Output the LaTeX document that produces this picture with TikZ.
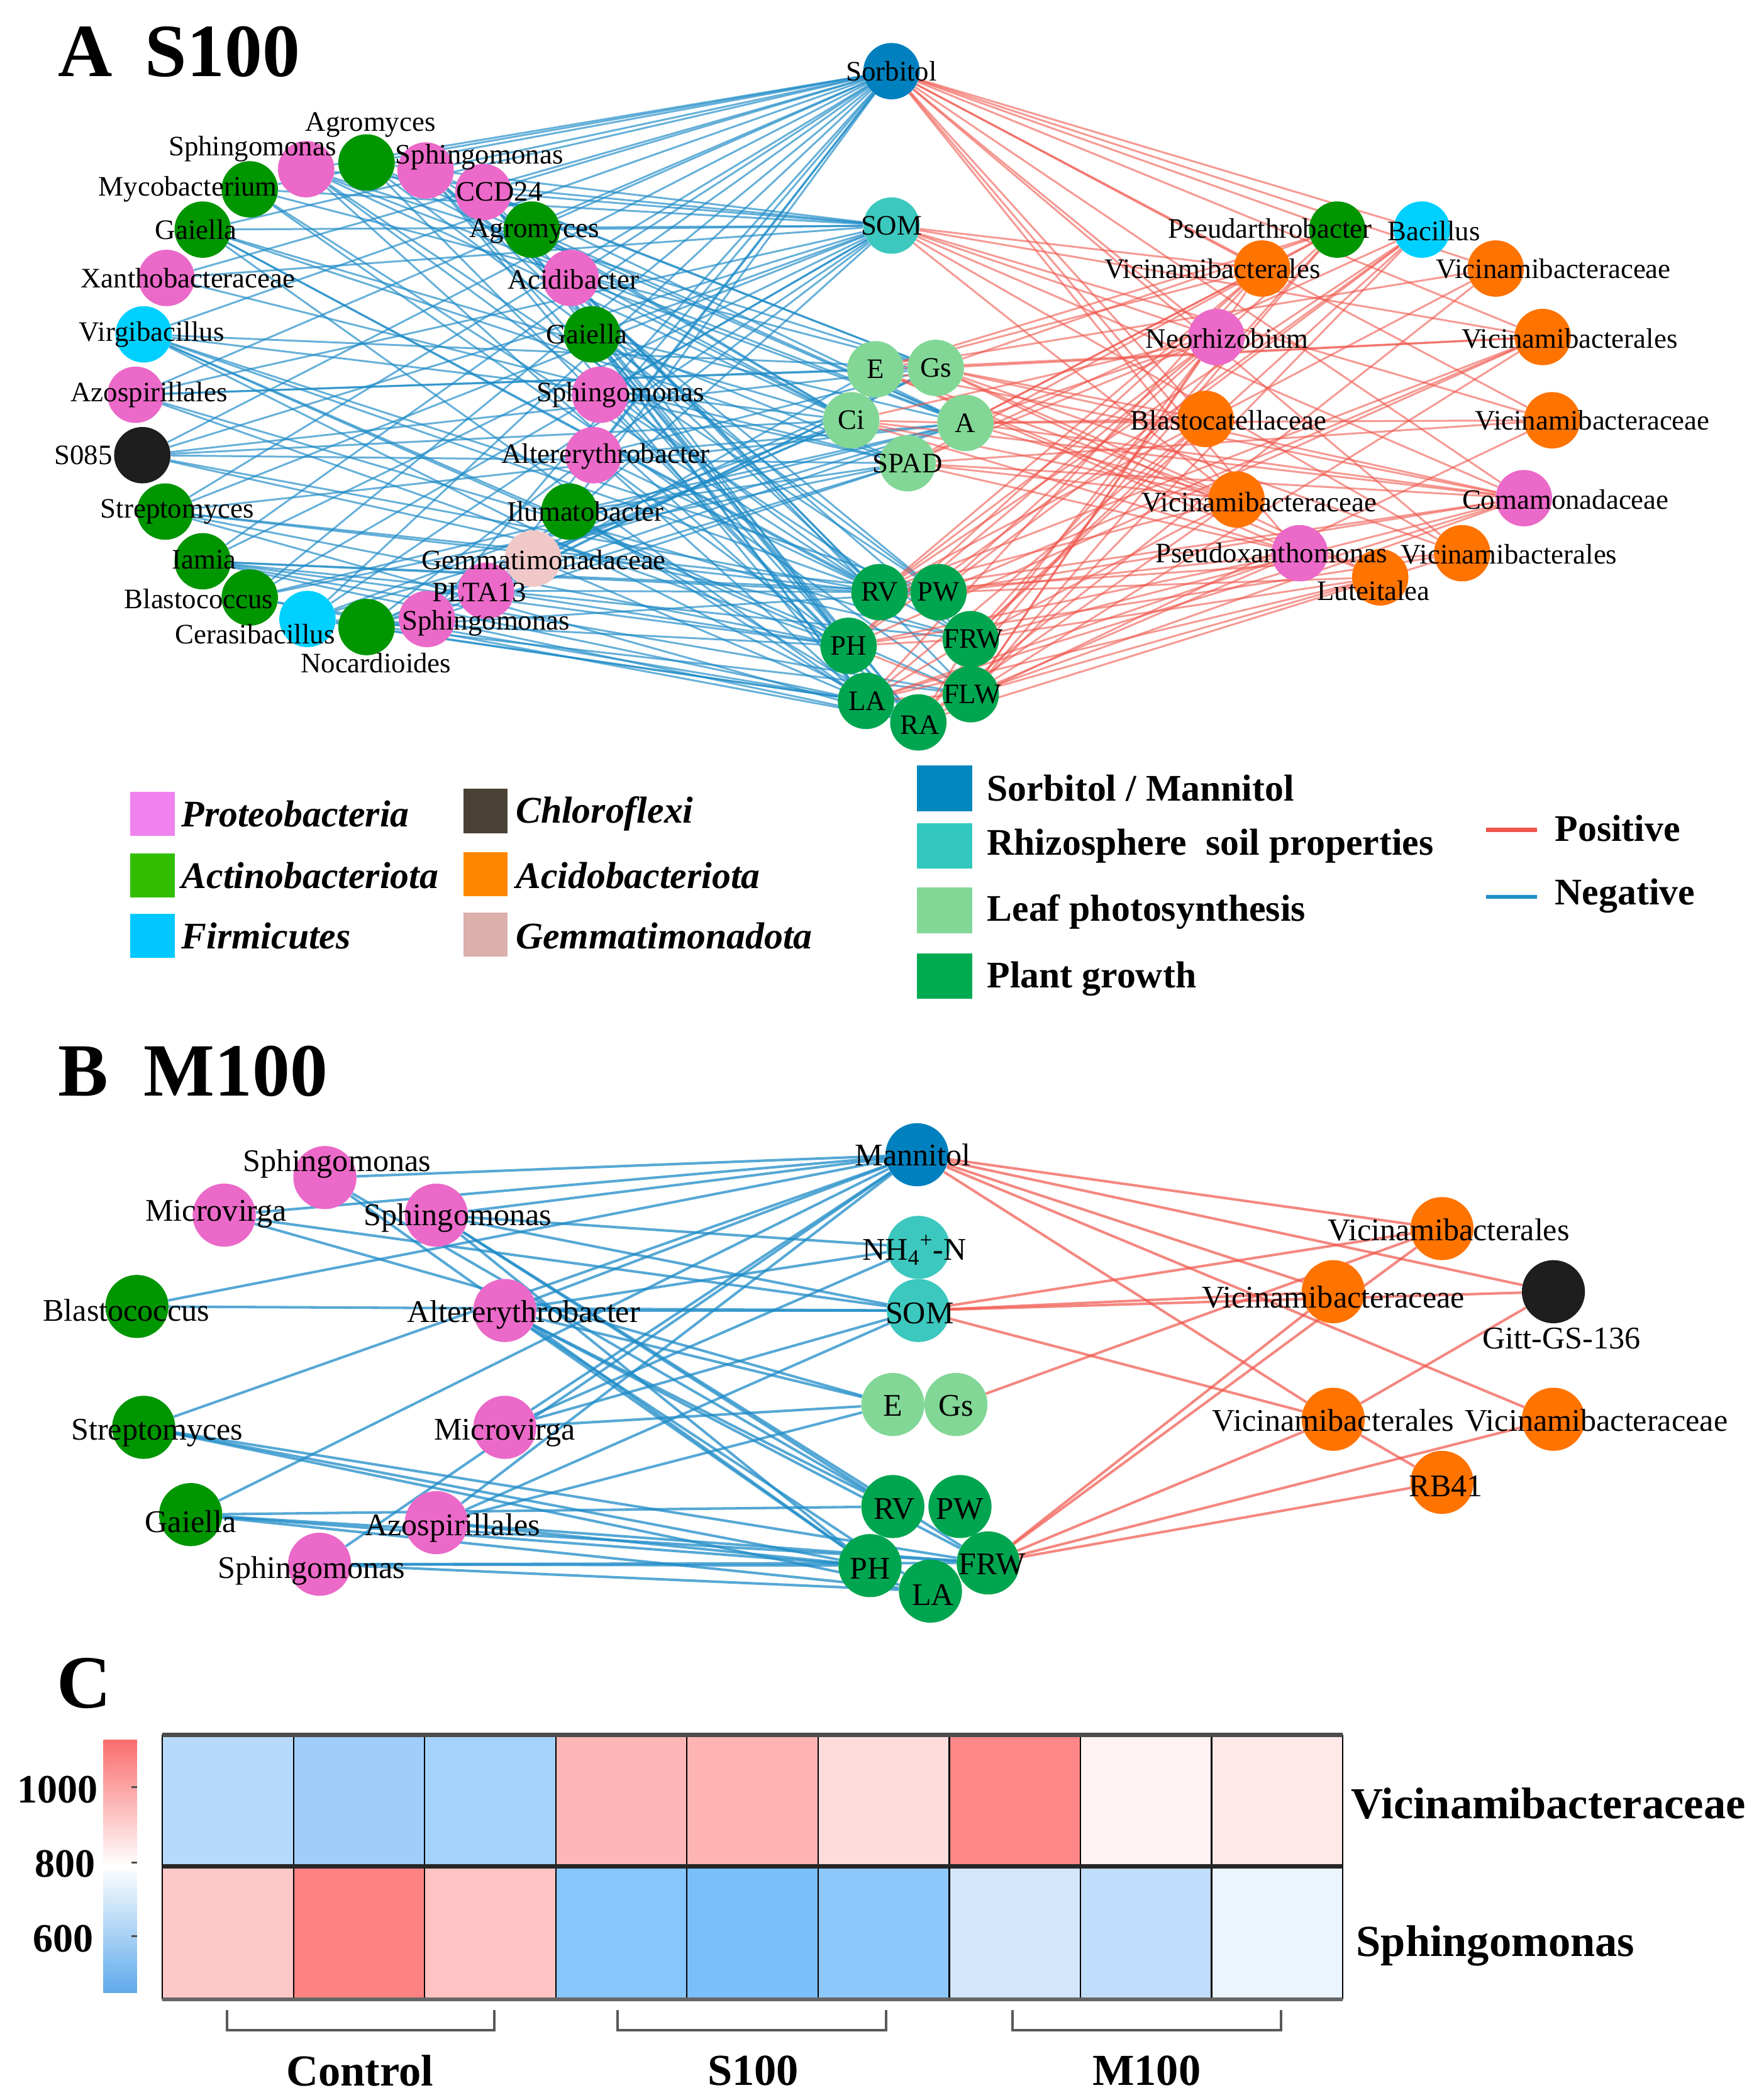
\documentclass[tikz,border=0pt]{standalone}
\usepackage{fontspec}
\setmainfont{Liberation Serif}
\usetikzlibrary{backgrounds}
\pgfdeclarelayer{fg}
\pgfsetlayers{background,main,fg}
\definecolor{cpro}{RGB}{235,105,200}
\definecolor{cact}{RGB}{0,150,0}
\definecolor{cfir}{RGB}{0,208,255}
\definecolor{cchl}{RGB}{30,30,30}
\definecolor{caci}{RGB}{255,115,0}
\definecolor{cgem}{RGB}{240,200,200}
\definecolor{csor}{RGB}{0,128,190}
\definecolor{csoil}{RGB}{60,200,190}
\definecolor{cleaf}{RGB}{130,215,150}
\definecolor{cgrow}{RGB}{0,165,80}
\definecolor{eneg}{RGB}{30,140,200}
\definecolor{epos}{RGB}{240,85,75}
\definecolor{lpro}{RGB}{240,130,240}
\definecolor{lact}{RGB}{50,190,0}
\definecolor{lfir}{RGB}{0,200,255}
\definecolor{lchl}{RGB}{75,65,55}
\definecolor{laci}{RGB}{255,135,0}
\definecolor{lgem}{RGB}{220,175,170}
\definecolor{lsor}{RGB}{0,135,190}
\definecolor{lsoil}{RGB}{50,200,190}
\definecolor{lleaf}{RGB}{130,215,150}
\definecolor{lgrow}{RGB}{0,170,80}
\definecolor{cbtop}{RGB}{250,110,110}
\definecolor{cbbot}{RGB}{95,170,235}
% heatmap
\definecolor{h11}{RGB}{183,218,250}
\definecolor{h12}{RGB}{160,205,250}
\definecolor{h13}{RGB}{165,210,252}
\definecolor{h14}{RGB}{255,182,182}
\definecolor{h15}{RGB}{255,180,180}
\definecolor{h16}{RGB}{255,220,220}
\definecolor{h17}{RGB}{255,135,135}
\definecolor{h18}{RGB}{255,242,242}
\definecolor{h19}{RGB}{255,232,232}
\definecolor{h21}{RGB}{255,200,200}
\definecolor{h22}{RGB}{255,130,130}
\definecolor{h23}{RGB}{255,195,195}
\definecolor{h24}{RGB}{135,198,250}
\definecolor{h25}{RGB}{122,190,250}
\definecolor{h26}{RGB}{142,200,250}
\definecolor{h27}{RGB}{210,230,252}
\definecolor{h28}{RGB}{192,222,252}
\definecolor{h29}{RGB}{235,245,255}
\tikzset{
 nodeA/.style={circle,minimum size=42pt,inner sep=0pt,draw=none},
 nodeB/.style={circle,minimum size=47pt,inner sep=0pt,draw=none},
 lblA/.style={font=\fontsize{21}{21}\selectfont,inner sep=0pt},
 lblB/.style={font=\fontsize{23.5}{23.5}\selectfont,inner sep=0pt},
 negedge/.style={draw=eneg,line width=1.4pt,opacity=0.68},
 posedge/.style={draw=epos,line width=1.4pt,opacity=0.6},
 negB/.style={draw=eneg,line width=1.9pt,opacity=0.75},
 posB/.style={draw=epos,line width=1.9pt,opacity=0.7},
 swatch/.style={rectangle,minimum width=33pt,minimum height=33pt,inner sep=0pt},
 swatchb/.style={rectangle,minimum width=41pt,minimum height=34pt,inner sep=0pt},
 legit/.style={font=\fontsize{28}{28}\selectfont\bfseries\itshape,anchor=west,inner sep=0pt},
 legbf/.style={font=\fontsize{28}{28}\selectfont\bfseries,anchor=west,inner sep=0pt},
 ttl/.style={font=\fontsize{56}{56}\selectfont\bfseries,anchor=base west,inner sep=0pt},
 hmlab/.style={font=\fontsize{33}{33}\selectfont\bfseries,inner sep=0pt},
 ticklab/.style={font=\fontsize{30}{30}\selectfont\bfseries,inner sep=0pt,anchor=east},
 brk/.style={draw=black!65,line width=2pt},
}
\newcommand\nA[7]{\node[nodeA,fill=#4] (#1) at (#2,#3) {};\begin{pgfonlayer}{fg}\node[lblA] (#1t) at (#5,#6) {#7};\end{pgfonlayer}}
\newcommand\nB[7]{\node[nodeB,fill=#4] (#1) at (#2,#3) {};\begin{pgfonlayer}{fg}\node[lblB] (#1t) at (#5,#6) {#7};\end{pgfonlayer}}
\begin{document}
\begin{tikzpicture}[x=1pt,y=-1pt]
\useasboundingbox (0,0) rectangle (1310,1564);
\begin{pgfonlayer}{background}
\fill[white] (0,0) rectangle (1310,1564);
\end{pgfonlayer}
% ---------------- Panel A ----------------
\node[ttl] (tA) at (43,57) {A};
\node[ttl] (tS) at (108,57) {S100};
% left cluster
\nA{la1}{228}{126}{cpro}{188}{111}{Sphingomonas}
\nA{la2}{273}{121}{cact}{276}{93}{Agromyces}
\nA{la3}{317}{127}{cpro}{357}{117}{Sphingomonas}
\nA{la4}{186}{141}{cact}{140}{141}{Mycobacterium}
\nA{la5}{360}{143}{cpro}{372}{143}{CCD24}
\nA{la6}{151}{171}{cact}{146}{171}{Gaiella}
\nA{la7}{396}{171}{cact}{398}{172}{Agromyces}
\nA{la8}{124}{207}{cpro}{140}{207}{Xanthobacteraceae}
\nA{la9}{425}{207}{cpro}{427}{208}{Acidibacter}
\nA{la10}{107}{249}{cfir}{113}{249}{Virgibacillus}
\nA{la11}{441}{249}{cact}{437}{249}{Gaiella}
\nA{la12}{101}{294}{cpro}{111}{294}{Azospirillales}
\nA{la13}{447}{294}{cpro}{462}{294}{Sphingomonas}
\nA{la14}{106}{339}{cchl}{62}{339}{S085}
\nA{la15}{442}{339}{cpro}{451}{340}{Altererythrobacter}
\nA{la16}{123}{381}{cact}{132}{381}{Streptomyces}
\nA{la17}{424}{381}{cact}{436}{381}{Ilumatobacter}
\nA{la18}{151}{418}{cact}{152}{417}{Iamia}
\nA{la19}{397}{416}{cgem}{405}{417}{Gemmatimonadaceae}
\nA{la20}{186}{445}{cact}{148}{446}{Blastococcus}
\nA{la21}{362}{440}{cpro}{357}{441}{PLTA13}
\nA{la22}{229}{461}{cfir}{190}{472}{Cerasibacillus}
\nA{la23}{273}{467}{cact}{280}{494}{Nocardioides}
\nA{la24}{318}{461}{cpro}{362}{464}{Sphingomonas}
% centre
\nA{Sor}{664}{53}{csor}{664}{53}{Sorbitol}
\nA{SOMa}{664}{168}{csoil}{664}{168}{SOM}
\nA{Ea}{652}{275}{cleaf}{652}{275}{E}
\nA{Gsa}{697}{274}{cleaf}{697}{274}{Gs}
\nA{Cia}{634}{313}{cleaf}{634}{313}{Ci}
\nA{Aa}{719}{315}{cleaf}{719}{315}{A}
\nA{SPAD}{676}{345}{cleaf}{676}{345}{SPAD}
\nA{RVa}{655}{441}{cgrow}{655}{441}{RV}
\nA{PWa}{699}{441}{cgrow}{699}{441}{PW}
\nA{PHa}{632}{481}{cgrow}{632}{481}{PH}
\nA{FRWa}{723}{476}{cgrow}{725}{476}{FRW}
\nA{LAa}{645}{522}{cgrow}{646}{522}{LA}
\nA{FLWa}{723}{517}{cgrow}{724}{517}{FLW}
\nA{RAa}{684}{538}{cgrow}{685}{540}{RA}
% right cluster
\nA{ra1}{996}{171}{cact}{946}{170}{Pseudarthrobacter}
\nA{ra2}{1059}{171}{cfir}{1068}{172}{Bacillus}
\nA{ra3}{940}{200}{caci}{903}{200}{Vicinamibacterales}
\nA{ra4}{1114}{200}{caci}{1157}{200}{Vicinamibacteraceae}
\nA{ra5}{906}{251}{cpro}{914}{252}{Neorhizobium}
\nA{ra6}{1149}{251}{caci}{1169}{252}{Vicinamibacterales}
\nA{ra7}{898}{312}{caci}{915}{313}{Blastocatellaceae}
\nA{ra8}{1156}{313}{caci}{1186}{313}{Vicinamibacteraceae}
\nA{ra9}{921}{372}{caci}{938}{374}{Vicinamibacteraceae}
\nA{ra10}{1135}{371}{cpro}{1166}{372}{Comamonadaceae}
\nA{ra11}{968}{412}{cpro}{947}{412}{Pseudoxanthomonas}
\nA{ra12}{1089}{412}{caci}{1124}{413}{Vicinamibacterales}
\nA{ra13}{1028}{430}{caci}{1023}{440}{Luteitalea}
% edges A
\begin{pgfonlayer}{background}
\pgfmathsetseed{2024}
\foreach \tg/\pr in {Sor/0.85,SOMa/0.6,Ea/0.35,Gsa/0.35,Cia/0.4,Aa/0.4,SPAD/0.35,RVa/0.4,PWa/0.35,PHa/0.45,FRWa/0.35,LAa/0.45,FLWa/0.35,RAa/0.4}{
  \foreach \i in {1,...,24}{
    \pgfmathsetmacro\rv{rnd}
    \ifdim\rv pt<\pr pt\relax \draw[negedge] (la\i) -- (\tg);\fi
  }
}
\foreach \tg/\pr in {Sor/0.85,SOMa/0.6,Ea/0.4,Gsa/0.5,Cia/0.35,Aa/0.5,SPAD/0.35,RVa/0.45,PWa/0.5,PHa/0.35,FRWa/0.5,LAa/0.35,FLWa/0.5,RAa/0.4}{
  \foreach \i in {1,...,13}{
    \pgfmathsetmacro\rv{rnd}
    \ifdim\rv pt<\pr pt\relax \draw[posedge] (ra\i) -- (\tg);\fi
  }
}
\foreach \a/\b in {Cia/Aa,PHa/FRWa,LAa/FRWa,LAa/FLWa,PHa/FLWa,RAa/FRWa}{\draw[posedge] (\a) -- (\b);}
\end{pgfonlayer}
% legend
\node[swatch,fill=lpro] (s1) at (113.5,606) {};
\node[legit] (s1t) at (135,606) {Proteobacteria};
\node[swatch,fill=lact] (s2) at (113.5,652) {};
\node[legit] (s2t) at (135,652) {Actinobacteriota};
\node[swatch,fill=lfir] (s3) at (113.5,697) {};
\node[legit] (s3t) at (135,697) {Firmicutes};
\node[swatch,fill=lchl] (s4) at (361.5,604) {};
\node[legit] (s4t) at (384,606) {Chloroflexi};
\node[swatch,fill=laci] (s5) at (361.5,651) {};
\node[legit] (s5t) at (384,652) {Acidobacteriota};
\node[swatch,fill=lgem] (s6) at (361.5,696) {};
\node[legit] (s6t) at (384,697) {Gemmatimonadota};
\node[swatchb,fill=lsor] (s7) at (703.5,587) {};
\node[legbf] (s7t) at (735,587) {Sorbitol / Mannitol};
\node[swatchb,fill=lsoil] (s8) at (703.5,630) {};
\node[legbf] (s8t) at (735,630) {Rhizosphere\ \ soil properties};
\node[swatchb,fill=lleaf] (s9) at (703.5,678) {};
\node[legbf] (s9t) at (735,679) {Leaf photosynthesis};
\node[swatchb,fill=lgrow] (s10) at (703.5,727) {};
\node[legbf] (s10t) at (735,729) {Plant growth};
\coordinate (p1) at (1107,618); \coordinate (p2) at (1145,618);
\draw[draw=epos,line width=3pt] (p1) -- (p2);
\node[legbf] (pt) at (1158,617) {Positive};
\coordinate (n1) at (1107,668); \coordinate (n2) at (1145,668);
\draw[draw=eneg,line width=3pt] (n1) -- (n2);
\node[legbf] (nt) at (1158,667) {Negative};
% ---------------- Panel B ----------------
\node[ttl] (tB) at (43,816) {B};
\node[ttl] (tM) at (107,816) {M100};
\nB{lb1}{242}{877}{cpro}{251}{867}{Sphingomonas}
\nB{lb2}{167}{905}{cpro}{161}{904}{Microvirga}
\nB{lb3}{325}{905}{cpro}{341}{907}{Sphingomonas}
\nB{lb4}{102}{973}{cact}{94}{976}{Blastococcus}
\nB{lb5}{376}{976}{cpro}{390}{979}{Altererythrobacter}
\nB{lb6}{107}{1063}{cact}{117}{1067}{Streptomyces}
\nB{lb7}{376}{1063}{cpro}{376}{1067}{Microvirga}
\nB{lb8}{142}{1128}{cact}{142}{1133}{Gaiella}
\nB{lb9}{325}{1134}{cpro}{337}{1138}{Azospirillales}
\nB{lb10}{238}{1165}{cpro}{232}{1170}{Sphingomonas}
\nB{Man}{683}{860}{csor}{680}{860}{Mannitol}
\nB{NH}{684}{929}{csoil}{681}{931}{NH\textsubscript{4}\textsuperscript{+}-N}
\nB{SOMb}{684}{976}{csoil}{685}{978}{SOM}
\nB{Eb}{665}{1046}{cleaf}{665}{1047}{E}
\nB{Gsb}{712}{1046}{cleaf}{712}{1047}{Gs}
\nB{RVb}{665}{1122}{cgrow}{666}{1124}{RV}
\nB{PWb}{715}{1122}{cgrow}{715}{1124}{PW}
\nB{PHb}{648}{1166}{cgrow}{648}{1168}{PH}
\nB{LAb}{693}{1185}{cgrow}{695}{1188}{LA}
\nB{FRWb}{736}{1164}{cgrow}{739}{1165}{FRW}
\nB{rb1}{1074}{915}{caci}{1079}{916}{Vicinamibacterales}
\nB{rb2}{993}{962}{caci}{993}{966}{Vicinamibacteraceae}
\nB{rb3}{1157}{962}{cchl}{1163}{997}{Gitt-GS-136}
\nB{rb4}{993}{1057}{caci}{993}{1058}{Vicinamibacterales}
\nB{rb5}{1157}{1057}{caci}{1189}{1058}{Vicinamibacteraceae}
\nB{rb6}{1074}{1104}{caci}{1077}{1107}{RB41}
\begin{pgfonlayer}{background}
\foreach \a/\b in {lb1/Man,lb1/RVb,lb1/PHb,lb2/Man,lb2/SOMb,lb2/Eb,lb3/Man,lb3/NH,lb3/SOMb,lb3/RVb,lb3/PHb,lb3/FRWb,lb4/Man,lb4/SOMb,lb5/Man,lb5/NH,lb5/SOMb,lb5/Eb,lb5/RVb,lb5/PHb,lb5/FRWb,lb5/LAb,lb6/Man,lb6/PHb,lb6/FRWb,lb6/LAb,lb7/Man,lb7/NH,lb7/SOMb,lb7/Eb,lb8/Man,lb8/RVb,lb8/PHb,lb8/FRWb,lb8/LAb,lb9/Man,lb9/SOMb,lb9/Eb,lb9/PHb,lb9/FRWb,lb10/Man,lb10/PHb,lb10/FRWb,lb10/LAb}{\draw[negB] (\a) -- (\b);}
\foreach \a/\b in {Man/rb1,Man/rb2,Man/rb3,Man/rb4,Man/rb5,SOMb/rb1,SOMb/rb2,SOMb/rb3,SOMb/rb4,Gsb/rb1,FRWb/rb1,FRWb/rb2,FRWb/rb4,FRWb/rb5,FRWb/rb6,rb4/rb3,rb4/rb6}{\draw[posB] (\a) -- (\b);}
\end{pgfonlayer}
% ---------------- Panel C ----------------
\node[ttl] (tC) at (42,1272) {C};
\foreach \col [count=\k from 0] in {h11,h12,h13,h14,h15,h16,h17,h18,h19}{
  \fill[\col] ({121+\k*97.67},1292) rectangle ({121+(\k+1)*97.67},1390);}
\foreach \col [count=\k from 0] in {h21,h22,h23,h24,h25,h26,h27,h28,h29}{
  \fill[\col] ({121+\k*97.67},1390) rectangle ({121+(\k+1)*97.67},1489);}
\foreach \k in {0,...,9}{\draw[line width=1pt] ({121+\k*97.67},1292) -- ({121+\k*97.67},1489);}
\draw[line width=3pt,black!70] (121,1292) -- (1000,1292);
\draw[line width=3pt,black!85] (121,1390) -- (1000,1390);
\draw[line width=3pt,black!60] (121,1489) -- (1000,1489);
\shade[top color=cbtop,bottom color=cbbot,middle color=white] (77,1296) rectangle (102,1484);
\foreach \yy in {1331,1387,1442}{\draw[line width=1.5pt,black!70] (98,\yy) -- (102,\yy);}
\node[ticklab] (k1) at (73,1333) {1000};
\node[ticklab] (k2) at (71,1388) {800};
\node[ticklab] (k3) at (70,1444) {600};
\node[hmlab,anchor=west] (r1) at (1006,1343) {Vicinamibacteraceae};
\node[hmlab,anchor=west] (r2) at (1010,1449) {Sphingomonas};
\draw[brk] (169,1497) -- (169,1512) -- (368,1512) -- (368,1497);
\draw[brk] (460,1497) -- (460,1512) -- (660,1512) -- (660,1497);
\draw[brk] (754,1497) -- (754,1512) -- (954,1512) -- (954,1497);
\node[hmlab] (g1) at (268,1542) {Control};
\node[hmlab] (g2) at (561,1542) {S100};
\node[hmlab] (g3) at (854,1542) {M100};
\end{tikzpicture}
\end{document}
